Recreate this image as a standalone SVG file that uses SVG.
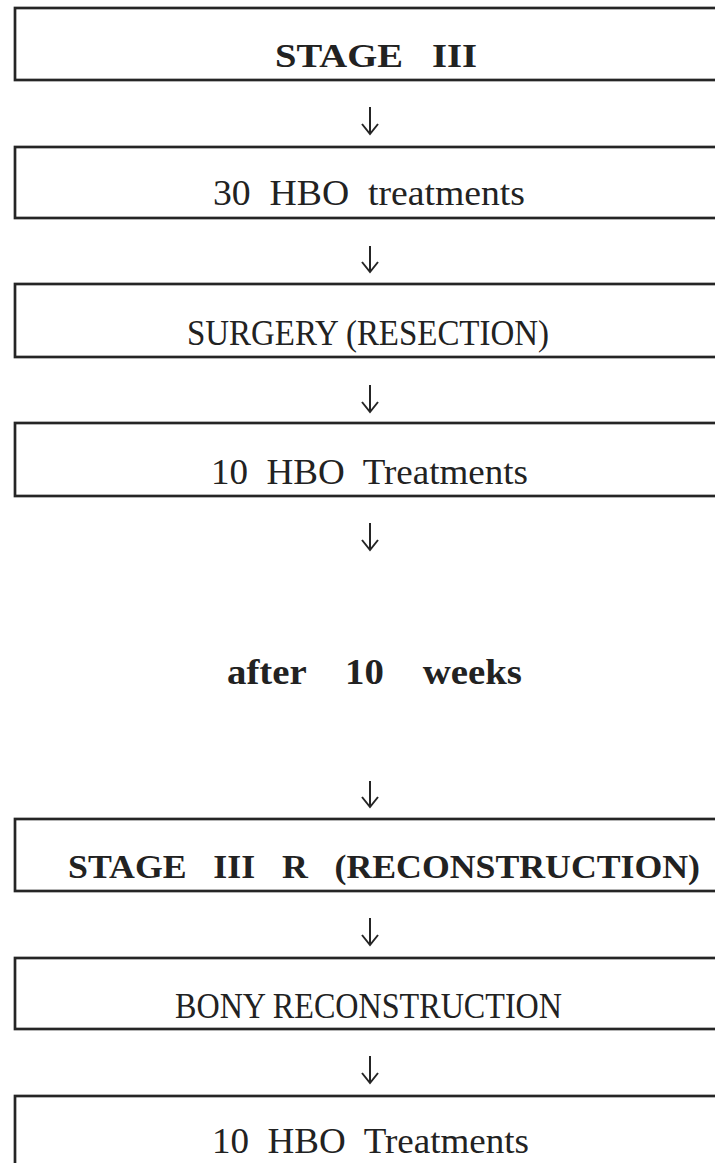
<svg xmlns="http://www.w3.org/2000/svg" width="715" height="1163" viewBox="0 0 715 1163">
<style>
.box{fill:none;stroke:#252525;stroke-width:2.7}
.t{font-family:"Liberation Serif","Times New Roman",serif;fill:#222}
.b{font-weight:bold}
.c{stroke:#252525;stroke-width:2;fill:none}
</style>
<defs>
<marker id="ah" markerUnits="userSpaceOnUse" markerWidth="14" markerHeight="20" refX="10" refY="8" orient="auto" overflow="visible">
<path d="M0,0 L10,8 L0,16" fill="none" stroke="#252525" stroke-width="2"/>
</marker>
</defs>
<rect width="715" height="1163" fill="#fff"/>
<g id="n1"><rect class="box" x="15" y="8" width="720" height="72"/><text class="t b" x="275" y="67" font-size="34" textLength="202" lengthAdjust="spacingAndGlyphs" xml:space="preserve">STAGE   III</text></g>
<g id="n2"><rect class="box" x="15" y="147" width="720" height="71"/><text class="t" x="213" y="205" font-size="35" textLength="312" lengthAdjust="spacingAndGlyphs" xml:space="preserve">30  HBO  treatments</text></g>
<g id="n3"><rect class="box" x="15" y="284" width="720" height="73"/><text class="t" x="187" y="345" font-size="35" textLength="362" lengthAdjust="spacingAndGlyphs">SURGERY (RESECTION)</text></g>
<g id="n4"><rect class="box" x="15" y="423" width="720" height="73"/><text class="t" x="211" y="484" font-size="35" textLength="317" lengthAdjust="spacingAndGlyphs" xml:space="preserve">10  HBO  Treatments</text></g>
<g id="n5"><text class="t b" x="227" y="684" font-size="36" textLength="295" lengthAdjust="spacingAndGlyphs" xml:space="preserve">after    10    weeks</text></g>
<g id="n6"><rect class="box" x="15" y="819" width="720" height="72"/><text class="t b" x="68" y="878" font-size="34" textLength="632" lengthAdjust="spacingAndGlyphs" xml:space="preserve">STAGE   III   R   (RECONSTRUCTION)</text></g>
<g id="n7"><rect class="box" x="15" y="958" width="720" height="71"/><text class="t" x="175" y="1018" font-size="35" textLength="387" lengthAdjust="spacingAndGlyphs">BONY RECONSTRUCTION</text></g>
<g id="n8"><rect class="box" x="15" y="1096" width="720" height="90"/><text class="t" x="212" y="1153" font-size="35" textLength="317" lengthAdjust="spacingAndGlyphs" xml:space="preserve">10  HBO  Treatments</text></g>
<g id="connectors">
<line class="c" x1="370" y1="107" x2="370" y2="134" marker-end="url(#ah)"/>
<line class="c" x1="370" y1="246" x2="370" y2="272" marker-end="url(#ah)"/>
<line class="c" x1="370" y1="385" x2="370" y2="412" marker-end="url(#ah)"/>
<line class="c" x1="370" y1="523" x2="370" y2="550" marker-end="url(#ah)"/>
<line class="c" x1="370" y1="781" x2="370" y2="807" marker-end="url(#ah)"/>
<line class="c" x1="370" y1="918" x2="370" y2="945" marker-end="url(#ah)"/>
<line class="c" x1="370" y1="1056" x2="370" y2="1083" marker-end="url(#ah)"/>
</g>
</svg>
